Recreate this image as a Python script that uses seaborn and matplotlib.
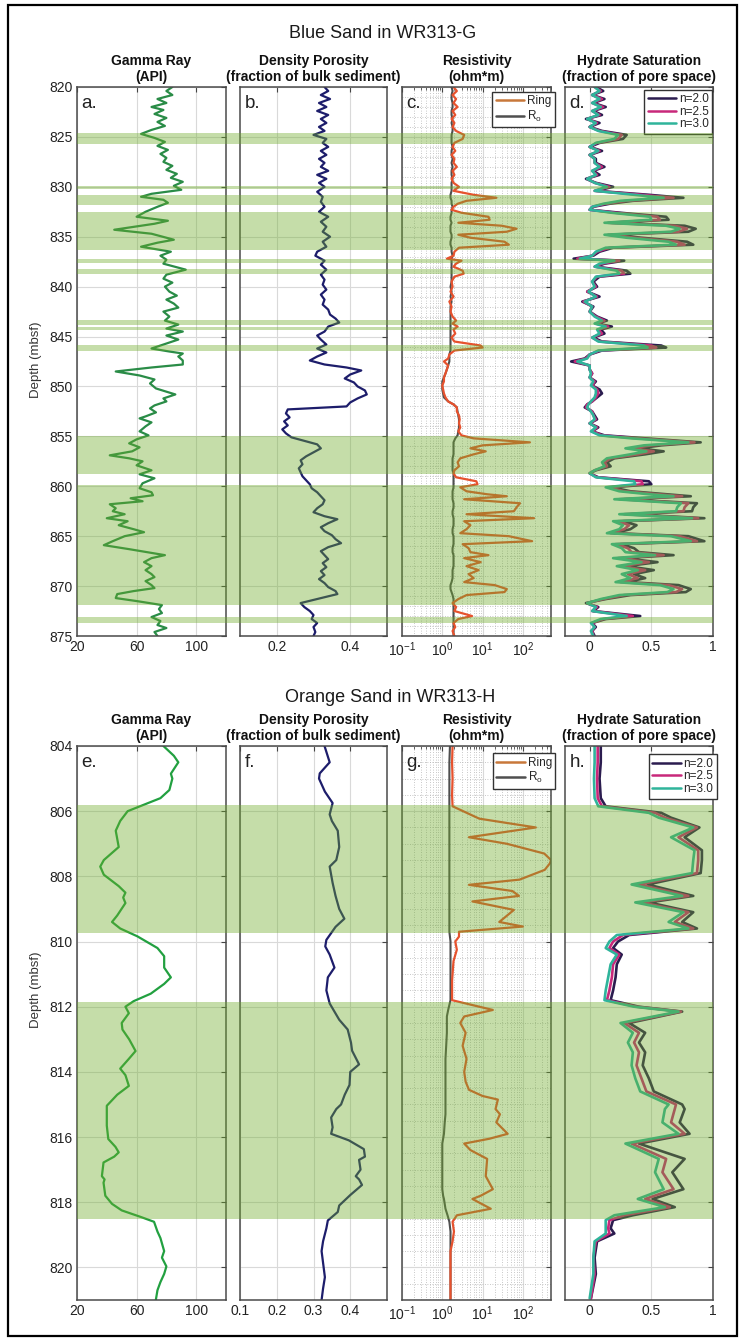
import numpy as np
import matplotlib
matplotlib.use("Agg")
import matplotlib.pyplot as plt
import seaborn as sns
from matplotlib.lines import Line2D
from matplotlib.patches import Rectangle
from matplotlib.ticker import LogLocator, MultipleLocator, NullFormatter, FixedLocator

sns.set_style("white")
plt.rcParams['font.family'] = ['Liberation Sans', 'DejaVu Sans']
plt.rcParams['mathtext.fontset'] = 'custom'
plt.rcParams['mathtext.rm'] = 'Liberation Sans'
plt.rcParams['mathtext.it'] = 'Liberation Sans:italic'

# ---------------- Blue Sand, WR313-G ----------------
gr_g = [(820.0, 84), (820.4, 80), (820.8, 84), (821.2, 74), (821.6, 80), (822.0, 70), (822.3, 78),
        (822.7, 72), (823.1, 80), (823.5, 74), (823.9, 79), (824.3, 70), (824.7, 63), (825.1, 72),
        (825.5, 79), (825.9, 74), (826.3, 81), (826.7, 76), (827.1, 80), (827.5, 78), (827.9, 84),
        (828.3, 80), (828.7, 87), (829.1, 83), (829.5, 91), (829.9, 85), (830.3, 90), (830.7, 70),
        (831.0, 63), (831.3, 78), (831.6, 81), (832.0, 74), (832.5, 66), (833.0, 60), (833.4, 81),
        (833.7, 72), (834.3, 45), (834.7, 70), (835.3, 85), (835.6, 74), (836.0, 63), (836.5, 83),
        (836.9, 76), (837.3, 80), (837.7, 78), (838.3, 93), (838.8, 80), (839.2, 78), (839.6, 84),
        (840.0, 79), (840.5, 82), (840.9, 87), (841.3, 80), (841.7, 85), (842.1, 88), (842.5, 78),
        (843.0, 82), (843.4, 79), (843.8, 88), (844.2, 80), (844.5, 91), (844.9, 80), (845.3, 88),
        (845.7, 80), (846.2, 70), (846.5, 82), (846.7, 91), (847.0, 88), (847.4, 91), (847.8, 91),
        (848.1, 70), (848.5, 46), (848.9, 62), (849.3, 72), (849.7, 69), (850.2, 73), (850.8, 86),
        (851.2, 78), (851.5, 80), (851.9, 72), (852.2, 69), (852.6, 73), (853.0, 66), (853.2, 62),
        (853.6, 70), (854.0, 66), (854.5, 62), (854.9, 68), (855.3, 60), (855.7, 55), (856.1, 62),
        (856.5, 57), (856.9, 42), (857.2, 55), (857.5, 64), (857.9, 60), (858.4, 70), (858.8, 62),
        (859.2, 72), (859.7, 64), (860.2, 62), (860.6, 70), (860.9, 71), (861.2, 56), (861.5, 64),
        (861.8, 42), (862.2, 46), (862.5, 44), (862.8, 52), (863.2, 40), (863.5, 54), (863.9, 48),
        (864.3, 58), (864.6, 65), (865.0, 52), (865.5, 44), (865.9, 38), (866.3, 55), (866.9, 79),
        (867.2, 70), (867.6, 65), (868.0, 70), (868.4, 66), (868.8, 70), (869.1, 72), (869.5, 66),
        (869.9, 70), (870.2, 72), (870.5, 58), (870.8, 47), (871.2, 46), (871.5, 60), (871.9, 77),
        (872.3, 75), (872.7, 77), (873.1, 70), (873.5, 76), (873.9, 74), (874.2, 80), (874.6, 72),
        (875.0, 74)]

por_g = [(820.0, 0.33), (820.4, 0.34), (820.8, 0.32), (821.2, 0.345), (821.6, 0.315), (822.0, 0.335),
         (822.4, 0.31), (822.8, 0.34), (823.2, 0.32), (823.6, 0.335), (824.0, 0.315), (824.4, 0.33),
         (824.8, 0.30), (825.2, 0.335), (825.6, 0.325), (826.0, 0.34), (826.4, 0.32), (826.8, 0.335),
         (827.2, 0.315), (827.6, 0.33), (828.0, 0.32), (828.4, 0.34), (828.8, 0.31), (829.2, 0.335),
         (829.6, 0.315), (830.0, 0.33), (830.5, 0.31), (831.0, 0.325), (831.5, 0.32), (832.0, 0.33),
         (832.5, 0.315), (833.0, 0.34), (833.5, 0.32), (834.0, 0.335), (834.5, 0.325), (835.0, 0.345),
         (835.5, 0.325), (836.0, 0.335), (836.5, 0.31), (836.9, 0.305), (837.4, 0.33), (837.8, 0.32),
         (838.3, 0.335), (838.8, 0.32), (839.3, 0.33), (839.8, 0.325), (840.3, 0.335), (840.8, 0.32),
         (841.3, 0.33), (841.8, 0.325), (842.3, 0.34), (842.8, 0.345), (843.2, 0.36), (843.6, 0.37),
         (844.0, 0.34), (844.5, 0.33), (844.9, 0.31), (845.3, 0.32), (845.8, 0.335), (846.2, 0.31),
         (846.6, 0.335), (847.0, 0.31), (847.4, 0.29), (847.8, 0.33), (848.1, 0.39), (848.4, 0.43),
         (848.8, 0.40), (849.2, 0.385), (849.6, 0.41), (850.0, 0.42), (850.4, 0.44), (850.8, 0.445),
         (851.2, 0.42), (851.6, 0.40), (852.0, 0.39), (852.3, 0.23), (852.7, 0.225), (853.1, 0.235),
         (853.5, 0.22), (853.9, 0.23), (854.3, 0.215), (854.7, 0.225), (855.1, 0.24), (855.5, 0.28),
         (855.8, 0.31), (856.2, 0.32), (856.6, 0.30), (857.0, 0.28), (857.4, 0.265), (857.8, 0.27),
         (858.2, 0.26), (858.6, 0.265), (859.0, 0.27), (859.4, 0.28), (859.8, 0.29), (860.2, 0.295),
         (860.6, 0.31), (861.0, 0.32), (861.4, 0.33), (861.8, 0.325), (862.2, 0.31), (862.6, 0.30),
         (863.0, 0.33), (863.3, 0.365), (863.7, 0.34), (864.1, 0.32), (864.5, 0.33), (864.9, 0.35),
         (865.3, 0.36), (865.7, 0.375), (866.1, 0.34), (866.5, 0.32), (866.9, 0.33), (867.3, 0.34),
         (867.7, 0.325), (868.1, 0.335), (868.5, 0.32), (868.9, 0.33), (869.3, 0.315), (869.7, 0.33),
         (870.1, 0.34), (870.5, 0.36), (870.8, 0.365), (871.2, 0.32), (871.7, 0.265), (872.1, 0.275),
         (872.5, 0.29), (872.9, 0.30), (873.3, 0.295), (873.7, 0.31), (874.1, 0.30), (874.6, 0.305),
         (875.0, 0.30)]

# depth, Ring, Ro
res_g = [(820.0, 1.9, 1.7), (820.4, 2.3, 1.8), (820.8, 1.8, 1.7), (821.2, 2.2, 1.7), (821.6, 1.9, 1.8),
         (822.0, 2.4, 1.8), (822.4, 1.8, 1.7), (822.8, 2.1, 1.7), (823.2, 1.7, 1.8), (823.6, 2.0, 1.7),
         (824.0, 1.8, 1.8), (824.4, 2.2, 1.8), (824.8, 3.5, 1.7), (825.2, 3.2, 1.7), (825.6, 2.0, 1.7),
         (826.0, 1.8, 1.8), (826.4, 2.1, 1.7), (826.8, 1.7, 1.7), (827.2, 2.0, 1.8), (827.6, 1.9, 1.7),
         (828.0, 2.3, 1.8), (828.4, 1.8, 1.7), (828.8, 2.0, 1.7), (829.2, 1.7, 1.8), (829.6, 1.9, 1.7),
         (830.0, 2.6, 1.7), (830.4, 1.9, 1.7), (830.8, 6.0, 1.6), (831.1, 22.0, 1.6), (831.4, 4.0, 1.7),
         (831.7, 2.4, 1.7), (832.0, 1.9, 1.8), (832.3, 1.7, 1.7), (832.6, 3.0, 1.7), (833.0, 14.0, 1.6),
         (833.3, 15.0, 1.6), (833.6, 2.5, 1.7), (833.9, 30.0, 1.6), (834.2, 70.0, 1.6), (834.5, 40.0, 1.6),
         (834.8, 2.5, 1.7), (835.1, 5.0, 1.7), (835.5, 35.0, 1.6), (835.8, 45.0, 1.6), (836.1, 2.6, 1.7),
         (836.5, 2.0, 1.7), (836.9, 1.9, 1.8), (837.2, 1.3, 1.7), (837.4, 3.0, 1.7), (837.7, 2.2, 1.7),
         (838.0, 1.9, 1.7), (838.4, 3.2, 1.7), (838.7, 3.4, 1.7), (839.0, 2.0, 1.7), (839.5, 1.7, 1.7),
         (840.0, 1.8, 1.6), (840.5, 1.6, 1.7), (841.0, 1.9, 1.6), (841.5, 1.5, 1.7), (842.0, 1.7, 1.6),
         (842.5, 1.6, 1.6), (843.0, 1.8, 1.6), (843.4, 2.2, 1.6), (843.7, 1.8, 1.6), (844.0, 2.4, 1.6),
         (844.3, 1.9, 1.6), (844.7, 2.1, 1.6), (845.1, 1.7, 1.6), (845.5, 2.0, 1.6), (845.9, 9.0, 1.6),
         (846.1, 10.0, 1.6), (846.4, 2.0, 1.6), (846.8, 1.5, 1.5), (847.2, 1.4, 1.5), (847.5, 1.1, 1.5),
         (847.9, 1.4, 1.4), (848.3, 1.3, 1.3), (848.7, 1.2, 1.2), (849.1, 1.1, 1.1), (849.5, 1.1, 1.0),
         (849.9, 1.0, 1.0), (850.3, 1.05, 1.0), (850.7, 1.1, 1.05), (851.1, 1.2, 1.1), (851.5, 1.4, 1.4),
         (851.8, 1.9, 1.9), (852.1, 2.3, 2.3), (852.5, 2.3, 2.4), (852.9, 2.6, 2.5), (853.3, 2.7, 2.6),
         (853.7, 2.6, 2.6), (854.1, 2.8, 2.6), (854.5, 2.5, 2.5), (854.9, 3.0, 2.4), (855.2, 6.0, 2.1),
         (855.6, 150.0, 1.9), (855.9, 10.0, 1.9), (856.2, 5.0, 1.9), (856.5, 12.0, 1.9), (856.8, 6.0, 1.9),
         (857.2, 2.8, 1.8), (857.6, 2.4, 1.8), (858.0, 2.6, 1.8), (858.4, 2.0, 1.8), (858.7, 1.9, 1.9),
         (859.1, 2.2, 1.9), (859.5, 7.0, 1.9), (859.8, 7.5, 1.9), (860.1, 2.8, 1.9), (860.5, 4.0, 1.8),
         (860.8, 13.0, 1.8), (861.0, 40.0, 1.8), (861.3, 3.5, 1.8), (861.7, 85.0, 1.9), (862.1, 70.0, 1.9),
         (862.5, 60.0, 1.8), (862.8, 4.0, 1.8), (863.2, 190.0, 1.9), (863.5, 3.5, 1.9), (863.9, 5.0, 1.9),
         (864.3, 4.0, 1.8), (864.7, 2.8, 1.8), (865.0, 45.0, 1.9), (865.5, 170.0, 1.9), (865.8, 3.2, 1.9),
         (866.2, 4.5, 1.8), (866.6, 5.0, 1.8), (866.9, 14.0, 1.9), (867.2, 3.5, 1.9), (867.6, 9.0, 1.9),
         (868.0, 4.0, 1.9), (868.4, 8.0, 1.8), (868.8, 4.5, 1.8), (869.2, 6.0, 1.8), (869.6, 3.5, 1.7),
         (869.9, 20.0, 1.6), (870.3, 40.0, 1.6), (870.6, 35.0, 1.7), (870.9, 4.0, 1.8), (871.3, 2.5, 1.9),
         (871.7, 1.8, 1.9), (872.1, 2.2, 1.9), (872.5, 2.0, 1.9), (873.0, 5.5, 1.9), (873.3, 2.5, 1.9),
         (873.7, 1.9, 1.9), (874.1, 2.1, 1.9), (874.5, 1.8, 1.9), (875.0, 2.0, 1.9)]

# depth, Sh(n=2.0), Sh(n=2.5), Sh(n=3.0)
sat_g = [(820.0, 0.05, 0.04, 0.04), (820.4, 0.11, 0.09, 0.08), (820.8, 0.02, 0.02, 0.02),
         (821.2, 0.12, 0.10, 0.08), (821.6, 0.03, 0.02, 0.02), (822.0, 0.13, 0.11, 0.09),
         (822.4, 0.03, 0.02, 0.02), (822.8, 0.10, 0.08, 0.07), (823.2, -0.03, -0.02, -0.02),
         (823.6, 0.08, 0.06, 0.05), (824.0, 0.00, 0.00, 0.00), (824.4, 0.10, 0.08, 0.07),
         (824.8, 0.30, 0.26, 0.23), (825.2, 0.27, 0.23, 0.20), (825.6, 0.08, 0.06, 0.05),
         (826.0, 0.00, 0.00, 0.00), (826.4, 0.10, 0.08, 0.07), (826.8, 0.00, 0.00, 0.00),
         (827.2, 0.05, 0.04, 0.04), (827.6, 0.05, 0.04, 0.04), (828.0, 0.12, 0.10, 0.08),
         (828.4, 0.03, 0.02, 0.02), (828.8, 0.08, 0.06, 0.05), (829.2, -0.03, -0.02, -0.02),
         (829.6, 0.05, 0.04, 0.04), (830.0, 0.19, 0.16, 0.14), (830.4, 0.05, 0.04, 0.04),
         (830.8, 0.48, 0.42, 0.36), (831.1, 0.76, 0.68, 0.60), (831.4, 0.35, 0.30, 0.25),
         (831.7, 0.16, 0.13, 0.11), (832.0, 0.03, 0.02, 0.02), (832.3, 0.00, 0.00, 0.00),
         (832.6, 0.25, 0.21, 0.18), (833.0, 0.62, 0.55, 0.49), (833.3, 0.64, 0.57, 0.50),
         (833.6, 0.17, 0.15, 0.12), (833.9, 0.77, 0.69, 0.62), (834.2, 0.86, 0.79, 0.73),
         (834.5, 0.80, 0.72, 0.66), (834.8, 0.18, 0.15, 0.12), (835.1, 0.42, 0.36, 0.30),
         (835.5, 0.79, 0.71, 0.64), (835.8, 0.84, 0.77, 0.70), (836.1, 0.19, 0.16, 0.13),
         (836.5, 0.08, 0.06, 0.05), (836.9, 0.03, 0.02, 0.02), (837.2, -0.13, -0.10, -0.08),
         (837.4, 0.28, 0.24, 0.20), (837.7, 0.12, 0.10, 0.08), (838.0, 0.05, 0.04, 0.04),
         (838.4, 0.30, 0.26, 0.22), (838.7, 0.33, 0.28, 0.24), (839.0, 0.08, 0.06, 0.05),
         (839.5, 0.03, 0.02, 0.02), (840.0, 0.06, 0.05, 0.04), (840.5, -0.02, -0.02, -0.01),
         (841.0, 0.08, 0.06, 0.05), (841.5, -0.06, -0.05, -0.04), (842.0, 0.03, 0.02, 0.02),
         (842.5, 0.00, 0.00, 0.00), (843.0, 0.06, 0.05, 0.04), (843.4, 0.14, 0.12, 0.10),
         (843.7, 0.06, 0.05, 0.04), (844.0, 0.18, 0.15, 0.13), (844.3, 0.09, 0.07, 0.06),
         (844.7, 0.12, 0.10, 0.08), (845.1, 0.03, 0.02, 0.02), (845.5, 0.10, 0.08, 0.07),
         (845.9, 0.58, 0.50, 0.44), (846.1, 0.62, 0.54, 0.47), (846.4, 0.10, 0.08, 0.07),
         (846.8, 0.00, 0.00, 0.00), (847.2, -0.04, -0.03, -0.02), (847.5, -0.15, -0.12, -0.10),
         (847.9, 0.00, 0.00, 0.00), (848.3, 0.00, 0.00, 0.00), (848.7, 0.02, 0.02, 0.01),
         (849.1, 0.00, 0.00, 0.00), (849.5, 0.05, 0.04, 0.03), (849.9, 0.02, 0.02, 0.01),
         (850.3, 0.08, 0.06, 0.05), (850.7, 0.10, 0.07, 0.05), (851.1, 0.06, 0.05, 0.04),
         (851.5, 0.02, 0.02, 0.01), (851.8, -0.02, -0.02, -0.01), (852.1, -0.04, -0.03, -0.02),
         (852.5, 0.02, 0.02, 0.01), (852.9, 0.04, 0.03, 0.03), (853.3, 0.06, 0.05, 0.04),
         (853.7, 0.00, 0.00, 0.00), (854.1, 0.07, 0.06, 0.05), (854.5, 0.02, 0.02, 0.01),
         (854.9, 0.12, 0.10, 0.08), (855.2, 0.45, 0.39, 0.34), (855.6, 0.90, 0.85, 0.80),
         (855.9, 0.58, 0.50, 0.44), (856.2, 0.40, 0.34, 0.29), (856.5, 0.60, 0.52, 0.46),
         (856.8, 0.45, 0.39, 0.33), (857.2, 0.20, 0.17, 0.14), (857.6, 0.14, 0.12, 0.10),
         (858.0, 0.17, 0.14, 0.12), (858.4, 0.05, 0.04, 0.04), (858.7, 0.00, 0.00, 0.00),
         (859.1, 0.07, 0.06, 0.05), (859.5, 0.48, 0.42, 0.36), (859.8, 0.50, 0.43, 0.37),
         (860.1, 0.18, 0.15, 0.13), (860.5, 0.33, 0.28, 0.24), (860.8, 0.63, 0.55, 0.48),
         (861.0, 0.82, 0.75, 0.68), (861.3, 0.28, 0.24, 0.20), (861.7, 0.87, 0.80, 0.74),
         (862.1, 0.84, 0.77, 0.71), (862.5, 0.83, 0.76, 0.70), (862.8, 0.33, 0.28, 0.24),
         (863.2, 0.93, 0.88, 0.83), (863.5, 0.27, 0.23, 0.19), (863.9, 0.38, 0.32, 0.27),
         (864.3, 0.33, 0.28, 0.24), (864.7, 0.20, 0.17, 0.14), (865.0, 0.80, 0.73, 0.66),
         (865.5, 0.93, 0.87, 0.82), (865.8, 0.25, 0.21, 0.18), (866.2, 0.36, 0.31, 0.26),
         (866.6, 0.40, 0.34, 0.29), (866.9, 0.68, 0.60, 0.53), (867.2, 0.27, 0.23, 0.19),
         (867.6, 0.55, 0.48, 0.42), (868.0, 0.30, 0.26, 0.22), (868.4, 0.52, 0.45, 0.39),
         (868.8, 0.36, 0.31, 0.26), (869.2, 0.45, 0.39, 0.33), (869.6, 0.30, 0.25, 0.21),
         (869.9, 0.72, 0.64, 0.57), (870.3, 0.82, 0.75, 0.68), (870.6, 0.78, 0.70, 0.63),
         (870.9, 0.33, 0.28, 0.24), (871.3, 0.13, 0.11, 0.09), (871.7, -0.03, -0.02, -0.02),
         (872.1, 0.07, 0.06, 0.05), (872.5, 0.03, 0.02, 0.02), (873.0, 0.41, 0.35, 0.30),
         (873.3, 0.13, 0.11, 0.09), (873.7, 0.02, 0.02, 0.01), (874.1, 0.05, 0.04, 0.04),
         (874.5, 0.02, 0.02, 0.01), (875.0, 0.04, 0.03, 0.03)]

bands_g = [(824.6, 825.7), (829.9, 830.2), (830.8, 831.8), (832.5, 836.3), (837.2, 837.6),
           (838.2, 838.7), (843.3, 843.8), (844.0, 844.3), (845.8, 846.4), (855.0, 858.8),
           (859.9, 871.9), (873.1, 873.7)]

# ---------------- Orange Sand, WR313-H ----------------
gr_h = [(804.0, 78), (804.3, 85), (804.5, 88), (804.85, 83), (805.0, 84), (805.35, 82), (805.6, 76),
        (805.8, 65), (806.0, 54), (806.3, 49), (806.6, 46), (807.1, 48), (807.5, 38), (807.7, 35.6),
        (807.95, 38), (808.3, 48), (808.5, 52.5), (808.65, 51), (808.82, 52.5), (809.2, 47),
        (809.4, 43.5), (809.6, 49), (809.84, 60.5), (810.2, 74), (810.45, 78.5), (810.8, 78.5),
        (811.1, 83), (811.3, 78.5), (811.6, 69.5), (811.83, 58), (812.0, 52.5), (812.2, 54.8),
        (812.5, 50), (812.7, 50.5), (813.0, 55), (813.36, 59.3), (813.6, 54.8), (813.9, 49),
        (814.1, 52.5), (814.43, 54.8), (814.7, 47), (815.04, 40), (815.65, 40), (816.06, 41),
        (816.3, 45.8), (816.47, 48), (816.6, 45), (816.78, 37.8), (817.2, 36.7), (817.3, 38.5),
        (817.4, 37.8), (817.8, 39), (818.05, 43.5), (818.25, 50), (818.45, 62.7), (818.6, 71.7),
        (818.9, 74), (819.1, 76), (819.5, 78.5), (819.7, 77), (819.97, 80), (820.2, 78.5),
        (820.45, 76), (820.7, 74), (821.0, 72.9)]

por_h = [(804.0, 0.33), (804.5, 0.344), (804.84, 0.317), (805.0, 0.315), (805.4, 0.331), (805.75, 0.352),
         (806.1, 0.344), (806.3, 0.35), (806.6, 0.366), (807.1, 0.37), (807.5, 0.362), (807.7, 0.344),
         (808.2, 0.352), (808.6, 0.36), (809.0, 0.37), (809.3, 0.384), (809.55, 0.36), (809.95, 0.335),
         (810.15, 0.332), (810.4, 0.344), (810.8, 0.357), (811.1, 0.339), (811.5, 0.335), (811.9, 0.344),
         (812.4, 0.37), (812.7, 0.393), (813.1, 0.402), (813.35, 0.405), (813.77, 0.424), (814.0, 0.40),
         (814.4, 0.398), (814.7, 0.385), (815.0, 0.375), (815.14, 0.362), (815.4, 0.348), (815.7, 0.352),
         (815.9, 0.348), (816.1, 0.396), (816.37, 0.437), (816.6, 0.44), (816.7, 0.424), (817.0, 0.428),
         (817.2, 0.415), (817.3, 0.424), (817.47, 0.432), (817.78, 0.40), (818.1, 0.37), (818.3, 0.366),
         (818.56, 0.339), (818.8, 0.335), (819.2, 0.326), (819.5, 0.322), (820.3, 0.331), (820.65, 0.326),
         (821.0, 0.322)]

res_h = [(804.0, 1.8, 1.55), (804.5, 1.75, 1.5), (805.0, 1.8, 1.5), (805.5, 1.75, 1.5), (805.85, 1.8, 1.5),
         (806.23, 8.3, 1.5), (806.5, 210, 1.5), (806.8, 4.6, 1.5), (807.0, 40, 1.5), (807.3, 340, 1.5),
         (807.5, 500, 1.5), (807.6, 470, 1.5), (807.8, 350, 1.5), (808.1, 83, 1.5), (808.26, 4.6, 1.5),
         (808.45, 55, 1.5), (808.6, 80, 1.5), (808.77, 5.6, 1.5), (809.03, 60, 1.5), (809.4, 26, 1.5),
         (809.54, 100, 1.5), (809.7, 2.6, 1.5), (809.85, 2.6, 1.55), (810.0, 2.1, 1.6), (810.25, 2.3, 1.6),
         (810.6, 1.9, 1.6), (811.2, 1.75, 1.6), (811.8, 1.75, 1.6), (812.1, 18, 1.4), (812.3, 3.5, 1.3),
         (812.5, 2.8, 1.3), (812.8, 3.8, 1.3), (813.2, 3.2, 1.25), (813.6, 4.0, 1.2), (814.0, 3.5, 1.2),
         (814.3, 3.8, 1.2), (814.55, 4.6, 1.2), (814.74, 10, 1.2), (814.85, 24, 1.2), (815.14, 21, 1.2),
         (815.3, 27, 1.2), (815.55, 22, 1.15), (815.9, 42, 1.1), (816.05, 15, 1.05), (816.2, 3.5, 1.0),
         (816.4, 5, 1.0), (816.67, 13, 1.0), (817.2, 12, 1.0), (817.6, 18, 1.0), (817.8, 9, 1.05),
         (817.9, 5.6, 1.1), (818.2, 16, 1.2), (818.4, 2.3, 1.35), (818.6, 1.8, 1.5), (818.9, 1.95, 1.6),
         (819.2, 1.8, 1.6), (819.5, 1.6, 1.6), (820.0, 1.6, 1.6), (820.5, 1.6, 1.6), (821.0, 1.6, 1.6)]

sat_h = [(804.0, 0.09, 0.065, 0.04), (804.5, 0.09, 0.065, 0.04), (805.0, 0.08, 0.06, 0.035),
         (805.6, 0.09, 0.065, 0.04), (805.85, 0.13, 0.10, 0.07), (806.05, 0.58, 0.53, 0.48),
         (806.2, 0.66, 0.61, 0.56), (806.5, 0.89, 0.87, 0.84), (806.8, 0.77, 0.72, 0.66),
         (807.2, 0.91, 0.88, 0.85), (807.5, 0.91, 0.88, 0.84), (807.9, 0.90, 0.87, 0.83),
         (808.25, 0.47, 0.40, 0.34), (808.6, 0.84, 0.80, 0.75), (808.8, 0.48, 0.42, 0.37),
         (809.1, 0.84, 0.80, 0.76), (809.4, 0.75, 0.69, 0.64), (809.6, 0.87, 0.84, 0.80),
         (809.8, 0.32, 0.27, 0.22), (810.0, 0.23, 0.19, 0.16), (810.2, 0.19, 0.16, 0.13),
         (810.4, 0.26, 0.24, 0.22), (810.7, 0.22, 0.19, 0.17), (811.1, 0.21, 0.18, 0.15),
         (811.5, 0.19, 0.16, 0.13), (811.8, 0.17, 0.14, 0.12), (812.0, 0.40, 0.38, 0.36),
         (812.15, 0.75, 0.74, 0.72), (812.5, 0.32, 0.28, 0.25), (812.8, 0.45, 0.40, 0.35),
         (813.1, 0.40, 0.36, 0.31), (813.4, 0.45, 0.40, 0.35), (813.8, 0.43, 0.38, 0.34),
         (814.2, 0.48, 0.42, 0.37), (814.6, 0.52, 0.46, 0.41), (815.0, 0.75, 0.70, 0.64),
         (815.14, 0.77, 0.69, 0.61), (815.55, 0.73, 0.66, 0.59), (815.9, 0.81, 0.77, 0.72),
         (816.2, 0.40, 0.34, 0.29), (816.67, 0.77, 0.62, 0.56), (817.08, 0.67, 0.59, 0.53),
         (817.6, 0.76, 0.68, 0.60), (817.9, 0.51, 0.45, 0.39), (818.15, 0.69, 0.65, 0.61),
         (818.4, 0.35, 0.28, 0.20), (818.55, 0.19, 0.16, 0.13), (818.8, 0.17, 0.15, 0.13),
         (818.96, 0.20, 0.16, 0.13), (819.2, 0.06, 0.05, 0.04), (819.7, 0.04, 0.03, 0.03),
         (820.2, 0.05, 0.04, 0.03), (820.95, 0.01, 0.01, 0.0)]

bands_h = [(805.8, 809.75), (811.86, 818.5)]

titles = ["Gamma Ray\n(API)", "Density Porosity\n(fraction of bulk sediment)",
          "Resistivity\n(ohm*m)", "Hydrate Saturation\n(fraction of pore space)"]

c_gr_g, c_gr_h = '#2a8c47', '#22a040'
c_por = '#1d1d6b'
c_ring, c_ro = '#e6522e', '#4f4f4f'
c_n2, c_n25, c_n3 = '#2b1c4f', '#c8287a', '#2fb49b'
c_band = '#6eac2a'

W, H = 744, 1341
fig = plt.figure(figsize=(W / 100, H / 100), dpi=100)


def px_axes(left, top, right, bottom):
    return fig.add_axes([left / W, 1 - bottom / H, (right - left) / W, (bottom - top) / H])


def draw(ax, x, y, color, lw=1.6):
    sns.lineplot(x=x, y=y, ax=ax, color=color, lw=lw, sort=False, estimator=None, legend=False)


def style(ax, ylim, ystep, show_y):
    ax.set_ylim(*ylim)
    ax.yaxis.set_major_locator(MultipleLocator(ystep))
    ax.tick_params(which='major', direction='in', top=True, right=True, length=3.5, width=0.8,
                   labelsize=10, labelcolor='#222222', color='#444444', pad=3)
    ax.grid(True, which='major', color='#d9d9d9', lw=0.8)
    for s in ax.spines.values():
        s.set_color('#4a4a4a')
        s.set_linewidth(1.1)
    ax.set_xlabel('')
    ax.set_ylabel('')
    if not show_y:
        ax.set_yticklabels([])


cols = [(77, 226), (240, 387), (402, 551), (565, 713)]
wells = [
    dict(top=87, bottom=636, ylim=(875, 820), ystep=5, ystepm=1, gr=gr_g, por=por_g, res=res_g,
         sat=sat_g, bands=bands_g, c_gr=c_gr_g, letters="abcd", por_ticks=[0.2, 0.4],
         title="Blue Sand in WR313-G", tx=383, ty=33, depth_y=360,
         leg_c=(1.025, 0.991), leg_d=(0.995, 0.995)),
    dict(top=746, bottom=1300, ylim=(821, 804), ystep=2, ystepm=0.5, gr=gr_h, por=por_h, res=res_h,
         sat=sat_h, bands=bands_h, c_gr=c_gr_h, letters="efgh", por_ticks=[0.1, 0.2, 0.3, 0.4],
         title="Orange Sand in WR313-H", tx=390, ty=697, depth_y=990,
         leg_c=(1.03, 0.987), leg_d=(1.027, 0.985)),
]

for w in wells:
    axs = [px_axes(l, w['top'], r, w['bottom']) for l, r in cols]
    gr = np.array(w['gr'])
    por = np.array(w['por'])
    res = np.array(w['res'])
    sat = np.array(w['sat'])

    # gamma ray
    ax = axs[0]
    draw(ax, gr[:, 1], gr[:, 0], w['c_gr'])
    ax.set_xlim(20, 120)
    ax.set_xticks([20, 60, 100])
    style(ax, w['ylim'], w['ystep'], True)

    # density porosity
    ax = axs[1]
    draw(ax, por[:, 1], por[:, 0], c_por)
    ax.set_xlim(0.1, 0.5)
    ax.set_xticks(w['por_ticks'])
    ax.set_xticklabels([f"{v:g}" for v in w['por_ticks']])
    style(ax, w['ylim'], w['ystep'], False)

    # resistivity
    ax = axs[2]
    ax.set_xscale('log')
    draw(ax, res[:, 2], res[:, 0], c_ro, lw=1.5)
    draw(ax, res[:, 1], res[:, 0], c_ring, lw=1.6)
    ax.set_xlim(0.1, 500)
    ax.xaxis.set_major_locator(FixedLocator([0.1, 1, 10, 100]))
    ax.xaxis.set_minor_locator(LogLocator(base=10, subs=np.arange(2, 10), numticks=20))
    ax.xaxis.set_minor_formatter(NullFormatter())
    ax.yaxis.set_minor_locator(MultipleLocator(w['ystepm']))
    style(ax, w['ylim'], w['ystep'], False)
    ax.grid(True, which='minor', color='#b5b5b5', lw=0.6, ls=(0, (1, 2)))
    ax.tick_params(axis='x', which='minor', direction='in', top=True, length=2, width=0.6, color='#444444')
    ax.tick_params(axis='y', which='minor', length=0)
    handles = [Line2D([], [], color='#c8783a', lw=1.8), Line2D([], [], color=c_ro, lw=1.8)]
    ax.legend(handles, ['Ring', r'R$_\mathrm{o}$'], loc='upper right', bbox_to_anchor=w['leg_c'],
              frameon=True, fancybox=False, framealpha=1, edgecolor='#333333', fontsize=8.5,
              handlelength=2.4, handletextpad=0.25, borderpad=0.3, labelspacing=0.1, borderaxespad=0)

    # hydrate saturation
    ax = axs[3]
    draw(ax, sat[:, 1], sat[:, 0], c_n2, lw=1.9)
    draw(ax, sat[:, 2], sat[:, 0], c_n25, lw=1.9)
    draw(ax, sat[:, 3], sat[:, 0], c_n3, lw=1.9)
    ax.set_xlim(-0.2, 1)
    ax.set_xticks([0, 0.5, 1])
    ax.set_xticklabels(['0', '0.5', '1'])
    style(ax, w['ylim'], w['ystep'], False)
    handles = [Line2D([], [], color=c, lw=1.8) for c in (c_n2, c_n25, c_n3)]
    ax.legend(handles, ['n=2.0', 'n=2.5', 'n=3.0'], loc='upper right', bbox_to_anchor=w['leg_d'],
              frameon=True, fancybox=False, framealpha=1, edgecolor='#333333', fontsize=8.5,
              handlelength=2.4, handletextpad=0.25, borderpad=0.3, labelspacing=0.05, borderaxespad=0)

    for ax, t, letter in zip(axs, titles, w['letters']):
        ax.set_title(t, fontsize=10, fontweight='bold', pad=4, linespacing=1.25, color='#111111')
        ax.text(0.03, 0.986, letter + '.', transform=ax.transAxes, ha='left', va='top',
                fontsize=13.5, color='#222222')

    # green hydrate intervals, drawn over the tracks and the gaps between them
    ov = px_axes(cols[0][0], w['top'], cols[3][1], w['bottom'])
    ov.set_zorder(10)
    ov.patch.set_alpha(0)
    ov.set_xlim(0, 1)
    ov.set_ylim(*w['ylim'])
    ov.axis('off')
    for d0, d1 in w['bands']:
        ov.axhspan(d0, d1, color=c_band, alpha=0.4, lw=0)

    fig.text(w['tx'] / W, 1 - w['ty'] / H, w['title'], ha='center', va='center', fontsize=13,
             color='#1a1a1a')
    fig.text(36 / W, 1 - w['depth_y'] / H, 'Depth (mbsf)', rotation=90, ha='center', va='center',
             fontsize=9.5, color='#333333')

fig.add_artist(Rectangle((8 / W, 5 / H), 729 / W, 1331 / H, transform=fig.transFigure,
                         fill=False, edgecolor='black', lw=1.6))

fig.savefig('out.png', dpi=100)
